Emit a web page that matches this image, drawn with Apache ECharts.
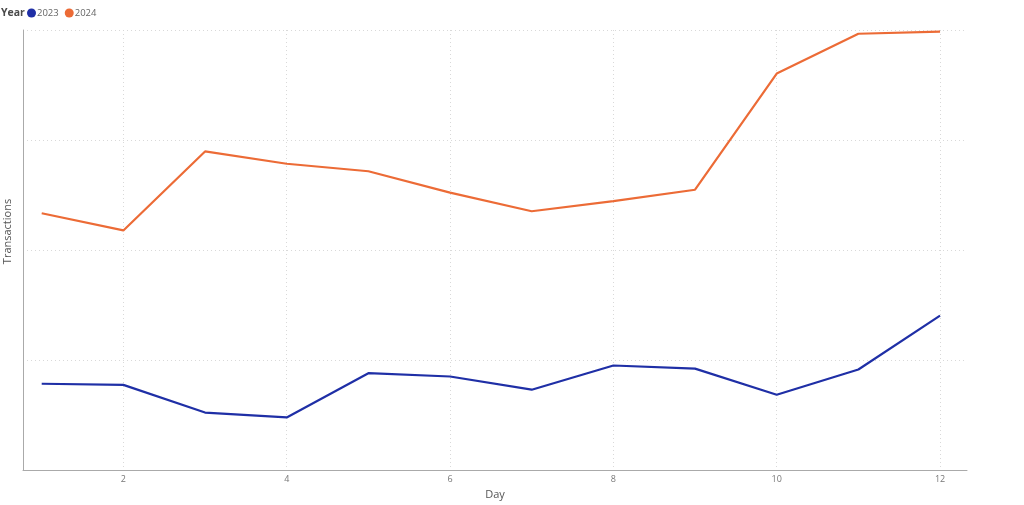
<!DOCTYPE html>
<html>
<head>
<meta charset="utf-8">
<script src="https://cdn.jsdelivr.net/npm/echarts@6/dist/echarts.min.js"></script>
<style>
  html, body { margin: 0; padding: 0; background: #fff; }
  #chart { width: 1024px; height: 505px; }
</style>
</head>
<body>
<div id="chart"></div>
<script>
// data (y scale has no labels, so units are arbitrary)
const days = [1, 2, 3, 4, 5, 6, 7, 8, 9, 10, 11, 12];
const tx2023 = [392, 387, 261, 239, 440, 425, 365, 475, 461, 342, 457, 702];
const tx2024 = [1167, 1089, 1448, 1392, 1358, 1261, 1176, 1222, 1274, 1802, 1983, 1993];
const dayTicks = [2, 4, 6, 8, 10, 12];

const font = "'Segoe UI', 'Open Sans', sans-serif";

const chart = echarts.init(document.getElementById('chart'));

chart.setOption({
  animation: false,
  textStyle: { fontFamily: font },
  title: {
    text: 'Year',
    left: 1,
    top: 8,
    padding: 0,
    textStyle: { fontSize: 10.5, fontWeight: 'bold', color: '#4a4a4a', fontFamily: font }
  },
  legend: {
    left: 27,
    top: 8,
    padding: 0,
    icon: 'circle',
    itemWidth: 9,
    itemHeight: 9,
    itemGap: 6,
    textStyle: { fontSize: 9.5, color: '#666', padding: [0, 0, 0, -4] },
    data: ['2023', '2024']
  },
  grid: { left: 23, right: 57, top: 30, bottom: 35, containLabel: false, outerBoundsMode: 'none' },
  xAxis: {
    type: 'value',
    min: 0.771,
    max: 12.33,
    name: 'Day',
    nameLocation: 'middle',
    nameGap: 17,
    nameTextStyle: { fontSize: 11, color: '#555' },
    axisLine: { show: true, lineStyle: { color: '#aaa', width: 1 } },
    axisTick: { show: false, customValues: dayTicks },
    axisLabel: { customValues: dayTicks, fontSize: 9, color: '#777', margin: 5 },
    splitLine: { show: true, lineStyle: { color: '#d9d9d9', type: [1, 3] } }
  },
  yAxis: {
    type: 'value',
    min: 0,
    max: 2000,
    interval: 500,
    name: 'Transactions',
    nameLocation: 'middle',
    nameGap: 10,
    nameTextStyle: { fontSize: 11, color: '#555', padding: [0, 0, 0, 37] },
    axisLine: { show: true, lineStyle: { color: '#aaa', width: 1 } },
    axisTick: { show: false },
    axisLabel: { show: false },
    splitLine: { show: true, lineStyle: { color: '#d9d9d9', type: [1, 3] } }
  },
  series: [
    {
      name: '2023',
      type: 'line',
      data: days.map((d, i) => [d, tx2023[i]]),
      showSymbol: false,
      itemStyle: { color: '#1f2fa6' },
      lineStyle: { width: 2.2, color: '#1f2fa6' }
    },
    {
      name: '2024',
      type: 'line',
      data: days.map((d, i) => [d, tx2024[i]]),
      showSymbol: false,
      itemStyle: { color: '#ec6b36' },
      lineStyle: { width: 2.2, color: '#ec6b36' }
    }
  ]
});
</script>
</body>
</html>
